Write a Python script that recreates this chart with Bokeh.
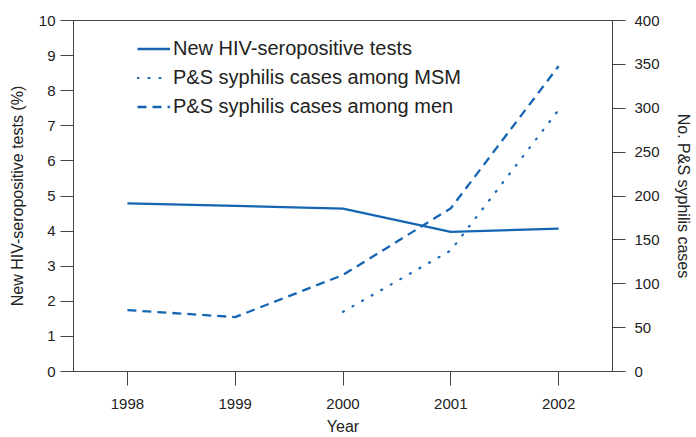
from bokeh.plotting import figure
from bokeh.models import Range1d, LinearAxis, FixedTicker, Legend, LegendItem
from bokeh.embed import file_html
from bokeh.resources import INLINE

years = [1998, 1999, 2000, 2001, 2002]
hiv_pct = [4.79, 4.72, 4.64, 3.98, 4.07]
syph_men = [70, 62, 110, 186, 348]
msm_years = [2000, 2001, 2002]
syph_msm = [68, 138, 298]

left_ticks = list(range(0, 11))
right_ticks = list(range(0, 401, 50))

BLUE = "#1565b3"
FONT = "Liberation Sans"
AX = "#444444"

p = figure(frame_width=539, frame_height=351, output_backend="svg", toolbar_location=None,
           x_range=Range1d(1997.5, 2002.5), y_range=Range1d(0, 10),
           min_border_left=73, min_border_right=80, min_border_top=20, min_border_bottom=60)
p.extra_y_ranges = {"right": Range1d(0, 400)}
p.grid.visible = False
p.outline_line_color = AX
p.outline_line_width = 1

r_hiv = p.line(years, hiv_pct, line_color=BLUE, line_width=2.3)
r_msm = p.line(msm_years, syph_msm, y_range_name="right", line_color=BLUE,
               line_width=2.2, line_dash="1 10", line_cap="round")
r_men = p.line(years, syph_men, y_range_name="right", line_color=BLUE,
               line_width=2.3, line_dash="9 6")

def style(ax, ticks, out=13):
    ax.ticker = FixedTicker(ticks=ticks)
    ax.axis_line_color = AX
    ax.major_tick_line_color = AX
    ax.major_tick_out = out
    ax.major_tick_in = 0
    ax.minor_tick_out = 0
    ax.minor_tick_in = 0
    ax.major_label_text_font = FONT
    ax.major_label_text_font_size = "15px"
    ax.major_label_text_color = "#222222"
    ax.axis_label_text_font = FONT
    ax.axis_label_text_font_size = "16px"
    ax.axis_label_text_font_style = "normal"
    ax.axis_label_text_color = "#222222"

style(p.xaxis[0], years, out=14)
p.xaxis[0].axis_label = "Year"
p.xaxis[0].major_label_standoff = 13
p.xaxis[0].axis_label_standoff = 6

style(p.yaxis[0], left_ticks)
p.yaxis[0].axis_label = "New HIV-seropositive tests (%)"
p.yaxis[0].major_label_standoff = 5
p.yaxis[0].axis_label_standoff = 10

ry = LinearAxis(y_range_name="right", axis_label="No. P&S syphilis cases")
style(ry, right_ticks)
ry.major_label_standoff = 9
ry.axis_label_standoff = 12
p.add_layout(ry, "right")

legend = Legend(items=[
    LegendItem(label="New HIV-seropositive tests", renderers=[r_hiv]),
    LegendItem(label="P&S syphilis cases among MSM", renderers=[r_msm]),
    LegendItem(label="P&S syphilis cases among men", renderers=[r_men]),
], location=(64, 253))
legend.border_line_color = None
legend.background_fill_alpha = 0
legend.padding = 0
legend.margin = 0
legend.spacing = 6
legend.glyph_width = 33
legend.glyph_height = 23
legend.label_standoff = 3
legend.label_text_font = FONT
legend.label_text_font_size = "20px"
legend.label_text_color = "#222222"
p.add_layout(legend)

open("out.html", "w").write(file_html(p, INLINE))
